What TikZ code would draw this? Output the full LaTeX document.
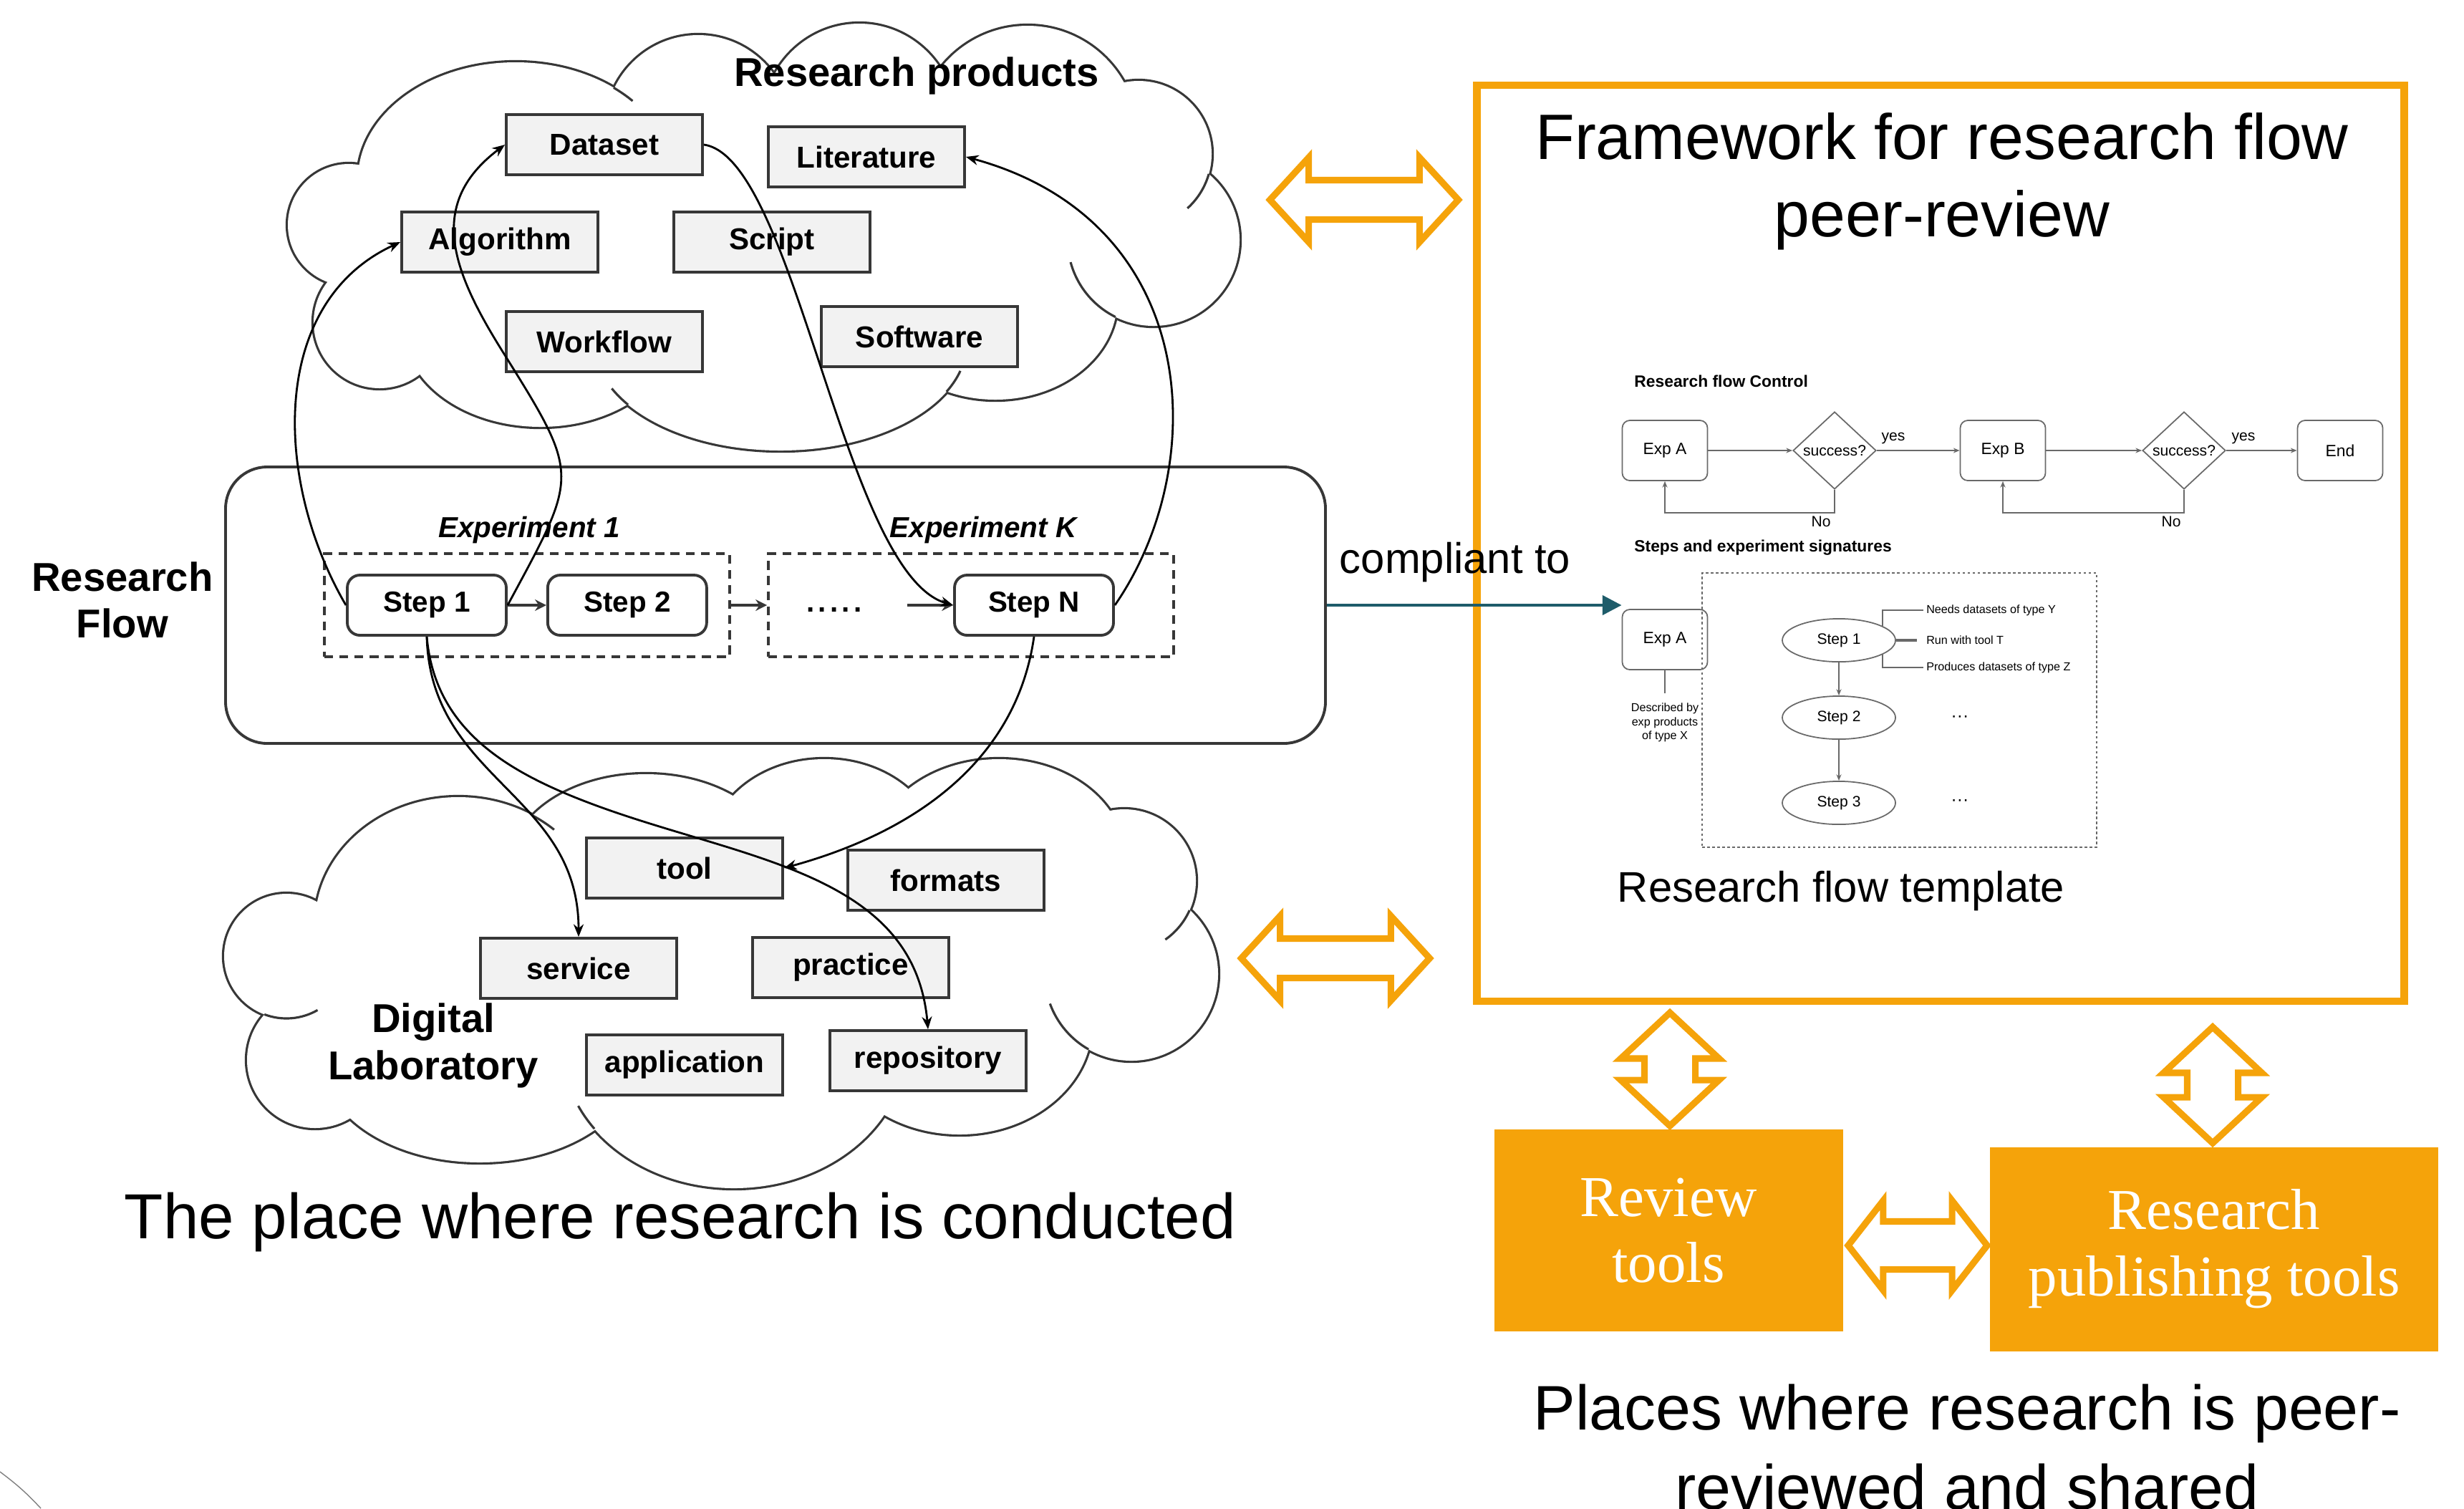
\documentclass[tikz,border=0pt]{standalone}
\usepackage{fontspec}
\setmainfont{Liberation Sans}
\newfontfamily\serifbox{Liberation Serif}
\usepackage{tikz}
\usetikzlibrary{arrows.meta,positioning,calc,shapes.geometric,shapes.arrows}
\definecolor{orng}{RGB}{245,163,10}
\definecolor{tealline}{RGB}{30,92,106}
\definecolor{prodfill}{RGB}{242,242,242}
\definecolor{dark}{RGB}{55,55,55}
\definecolor{flowgray}{RGB}{105,105,105}
% puffs of the two clouds: x/y/x radius/y radius
\newcommand\topcloud{4.87/-3.14/0.85/0.85, 7.20/-2.50/2.20/1.63, 9.75/-1.80/1.30/1.31, 12.00/-1.70/1.35/1.37, 14.35/-1.90/1.54/1.54, 15.90/-2.15/1.02/1.02, 16.11/-3.35/1.20/1.20, 13.90/-4.20/1.70/1.38, 10.90/-4.79/2.60/1.50, 7.55/-4.60/1.90/1.36, 5.30/-4.50/0.92/0.92}
\newcommand\labcloud{6.40/-12.90/2.00/1.77, 9.02/-12.11/1.90/1.30, 11.51/-11.90/1.60/1.30, 13.95/-11.95/1.75/1.35, 15.70/-12.30/1.00/1.00, 15.80/-13.60/1.21/1.21, 13.40/-14.30/1.85/1.54, 10.25/-14.60/2.40/1.99, 6.70/-14.80/2.20/1.43, 4.40/-14.80/0.95/0.95, 4.00/-13.35/0.87/0.87}

\begin{document}
\begin{tikzpicture}[
  prod/.style={draw=dark,fill=prodfill,line width=1.1pt,minimum width=2.74cm,minimum height=0.84cm,inner sep=0pt,font=\fontsize{12}{14}\selectfont\bfseries},
  stepbox/.style={draw=dark,fill=white,rounded corners=5pt,line width=1.1pt,minimum width=2.22cm,minimum height=0.84cm,inner sep=0pt,font=\fontsize{11.5}{14}\selectfont\bfseries},
  expbox/.style={draw=dark,line width=1.1pt,dash pattern=on 3.5pt off 2.5pt,minimum width=5.66cm,minimum height=1.44cm},
  puff/.style={draw=dark,line width=1.8pt},
  hook/.style={draw=dark,line width=0.9pt},
  link/.style={-{Stealth[length=5pt,width=4pt]},line width=0.8pt,black},
  short/.style={-{Stealth[length=4.5pt,width=4.5pt]},line width=1.1pt,dark},
  dbl/.style={double arrow,draw=orng,fill=white,line width=2.6pt,inner xsep=0pt},
  orbox/.style={fill=orng,text=white,align=center,font=\serifbox\fontsize{23}{26.4}\selectfont},
  flowbox/.style={draw=flowgray,rounded corners=3pt,line width=0.5pt,minimum width=1.19cm,minimum height=0.84cm,font=\fontsize{6.5}{8}\selectfont},
  decide/.style={diamond,draw=flowgray,line width=0.5pt,minimum width=1.16cm,minimum height=1.08cm,inner sep=0pt},
  oval/.style={ellipse,draw=flowgray,line width=0.5pt,minimum width=1.58cm,minimum height=0.55cm,font=\fontsize{6}{7}\selectfont},
  flow/.style={-{Stealth[length=2.5pt,width=2pt]},draw=flowgray,line width=0.5pt},
  flowline/.style={draw=flowgray,line width=0.5pt},
  small/.style={font=\fontsize{6}{7}\selectfont,inner sep=1pt},
  tiny/.style={font=\fontsize{4.6}{5.5}\selectfont,inner sep=1pt}
]
\useasboundingbox (0,0) rectangle (34.41,-21.06);

% clouds: outline of the puffs, then white inside
\foreach \x/\y/\a/\b in \topcloud {\draw[puff] (\x,\y) ellipse [x radius=\a, y radius=\b];}
\foreach \x/\y/\a/\b in \labcloud {\draw[puff] (\x,\y) ellipse [x radius=\a, y radius=\b];}
\foreach \x/\y/\a/\b in \topcloud {\fill[white] (\x,\y) ellipse [x radius=\a, y radius=\b];}
\foreach \x/\y/\a/\b in \labcloud {\fill[white] (\x,\y) ellipse [x radius=\a, y radius=\b];}
\fill[white] (4.87,-3.14) -- (7.20,-2.50) -- (9.75,-1.80) -- (12.00,-1.70) -- (14.35,-1.90) -- (15.90,-2.15) -- (16.11,-3.35) -- (13.90,-4.20) -- (10.90,-4.79) -- (7.55,-4.60) -- (5.30,-4.50) -- cycle;
\fill[white] (6.40,-12.90) -- (9.02,-12.11) -- (11.51,-11.90) -- (13.95,-11.95) -- (15.70,-12.30) -- (15.80,-13.60) -- (13.40,-14.30) -- (10.25,-14.60) -- (6.70,-14.80) -- (4.40,-14.80) -- (4.00,-13.35) -- cycle;
% hooks where the puffs meet
\draw[hook] (7.20,-2.50) ++(51.5:2.2 and 1.63) arc [start angle=51.5,end angle=42,x radius=2.2,y radius=1.63];
\draw[hook] (15.90,-2.15) ++(-15.9:1.02) arc [start angle=-15.9,end angle=-48,radius=1.02];
\draw[hook] (16.11,-3.35) ++(243.7:1.2) arc [start angle=243.7,end angle=195,radius=1.2];
\draw[hook] (10.90,-4.79) ++(-26.9:2.6 and 1.5) arc [start angle=-26.9,end angle=-15,x radius=2.6,y radius=1.5];
\draw[hook] (10.90,-4.79) ++(215:2.6 and 1.5) arc [start angle=215,end angle=205,x radius=2.6,y radius=1.5];
\draw[hook] (6.40,-12.90) ++(59:2 and 1.77) arc [start angle=59,end angle=48,x radius=2,y radius=1.77];
\draw[hook] (15.70,-12.30) ++(-24.2:1) arc [start angle=-24.2,end angle=-55,radius=1];
\draw[hook] (15.80,-13.60) ++(240.3:1.21) arc [start angle=240.3,end angle=200,radius=1.21];
\draw[hook] (10.25,-14.60) ++(215.7:2.4 and 1.99) arc [start angle=215.7,end angle=205,x radius=2.4,y radius=1.99];
\draw[hook] (4.00,-13.35) ++(249.3:0.87) arc [start angle=249.3,end angle=300,radius=0.87];
\node[font=\fontsize{16}{19}\selectfont\bfseries] (rptitle) at (12.80,-1.06) {Research products};
\node[font=\fontsize{16}{19}\selectfont\bfseries,align=center] (dltitle) at (6.05,-14.60) {Digital\\Laboratory};

% research products
\node[prod] (ds) at (8.44,-2.02) {Dataset};
\node[prod] (lit) at (12.10,-2.19) {Literature};
\node[prod] (alg) at (6.98,-3.38) {Algorithm};
\node[prod] (scr) at (10.78,-3.38) {Script};
\node[prod] (wf) at (8.44,-4.77) {Workflow};
\node[prod] (sw) at (12.84,-4.70) {Software};

% digital laboratory
\node[prod] (tool) at (9.56,-12.12) {tool};
\node[prod] (fmt) at (13.21,-12.29) {formats};
\node[prod] (srv) at (8.08,-13.52) {service};
\node[prod] (prc) at (11.88,-13.51) {practice};
\node[prod] (app) at (9.56,-14.87) {application};
\node[prod] (rep) at (12.96,-14.81) {repository};

% research flow
\node[draw=dark,line width=1.1pt,rounded corners=0.58cm,minimum width=15.36cm,minimum height=3.86cm] (rf) at (10.83,-8.45) {};
\node[font=\fontsize{16}{18.5}\selectfont\bfseries,align=center] (rftitle) at (1.71,-8.38) {Research\\Flow};
\node[expbox] (ex1) at (7.36,-8.45) {};
\node[expbox] (exk) at (13.56,-8.45) {};
\node[font=\fontsize{11.5}{14}\selectfont\bfseries\itshape] (ex1t) at (7.39,-7.40) {Experiment 1};
\node[font=\fontsize{11.5}{14}\selectfont\bfseries\itshape] (exkt) at (13.73,-7.40) {Experiment K};
\node[stepbox] (st1) at (5.96,-8.45) {Step 1};
\node[stepbox,right=0.54cm of st1] (st2) {Step 2};
\node[stepbox] (stn) at (14.44,-8.45) {Step N};
\node[font=\fontsize{11.5}{14}\selectfont\bfseries,inner sep=0pt] (dots) at (11.65,-8.51) {.\kern1.5pt.\kern1.5pt.\kern1.5pt.\kern1.5pt.};
\draw[short] (st1.east) -- (st2.west);
\draw[short] (ex1.east) -- (exk.west);
\draw[short] ($(stn.west)+(-0.64,0)$) -- (stn.west);

% links between products, steps and lab
\draw[link] (st1.west) .. controls +(-1.01,1.73) and +(-1.84,-0.85) .. (alg.west);
\coordinate (m1) at (7.02,-4.91);
\draw[link] (st1.east) .. controls +(0.99,1.84) and +(1.10,-1.76) .. (m1) .. controls +(-0.72,1.15) and +(-1.09,-0.82) .. (ds.west);
\draw[link] (ds.east) .. controls +(1.28,-0.18) and +(-1.53,0.45) .. (stn.west);
\draw[link] (stn.east) .. controls +(1.35,1.95) and +(3.3,-0.9) .. (lit.east);
\draw[link] (stn.south) .. controls +(-0.23,-1.63) and +(1.97,0.54) .. (tool.east);
\draw[link] (st1.south) .. controls +(0.05,-2.0) and +(0,2.0) .. (srv.north);
\coordinate (m2) at (8.2,-11.2);
\draw[link] (st1.south) .. controls +(0.11,-1.26) and +(-1.18,0.45) .. (m2) .. controls +(2.09,-0.80) and +(-0.20,2.23) .. (rep.north);

% framework
\node[draw=orng,line width=3.1pt,minimum width=12.95cm,minimum height=12.79cm] (fw) at (27.10,-7.585) {};
\node[font=\fontsize{25.5}{30.7}\selectfont,align=center] (fwtitle) at (27.12,-2.53) {Framework for research flow\\peer-review};

\node[anchor=west,font=\fontsize{6.5}{8}\selectfont\bfseries] (rfc) at (22.70,-5.32) {Research flow Control};
\node[flowbox] (fa) at (23.25,-6.29) {Exp A};
\node[decide] (d1) at (25.62,-6.29) {};
\node[small] (d1t) at (d1) {success?};
\node[flowbox] (fb) at (27.97,-6.29) {Exp B};
\node[decide] (d2) at (30.50,-6.29) {};
\node[small] (d2t) at (d2) {success?};
\node[flowbox] (fe) at (32.68,-6.29) {End};
\node[small] (y1) at (26.44,-6.12) {yes};
\node[small] (y2) at (31.33,-6.12) {yes};
\draw[flow] (fa.east) -- (d1.west);
\draw[flow] (d1.east) -- (fb.west);
\draw[flow] (fb.east) -- (d2.west);
\draw[flow] (d2.east) -- (fe.west);
\draw[flow] (d1.south) -- ++(0,-0.32) -| (fa.south);
\draw[flow] (d2.south) -- ++(0,-0.32) -| (fb.south);
\node[small] (no1) at (25.43,-7.28) {No};
\node[small] (no2) at (30.32,-7.28) {No};

\node[anchor=west,font=\fontsize{6.5}{8}\selectfont\bfseries] (ses) at (22.70,-7.65) {Steps and experiment signatures};
\node[flowbox] (ga) at (23.25,-8.93) {Exp A};
\node[tiny,align=center] (dby) at (23.25,-10.09) {Described by\\exp products\\of type X};
\draw[flowline] (ga.south) -- ++(0,-0.32);
\node[draw=flowgray,dash pattern=on 1pt off 1pt,line width=0.5pt,minimum width=5.51cm,minimum height=3.83cm] (sig) at (26.525,-9.915) {};
\node[oval] (s1) at (25.68,-8.94) {Step 1};
\node[oval] (s2) at (25.68,-10.02) {Step 2};
\node[oval] (s3) at (25.68,-11.21) {Step 3};
\draw[flow] (s1) -- (s2);
\draw[flow] (s2) -- (s3);
\node[tiny,anchor=west] (nd) at (26.86,-8.52) {Needs datasets of type Y};
\node[tiny,anchor=west] (rt) at (26.86,-8.94) {Run with tool T};
\node[tiny,anchor=west] (pd) at (26.86,-9.32) {Produces datasets of type Z};
\draw[flowline] (s1.18) |- (nd.west);
\draw[flowline] (s1.-18) |- (pd.west);
\draw[flowline,line width=1.3pt] (s1.east) -- ++(0.29,0);
\node[font=\fontsize{7}{8}\selectfont] (dt2) at (27.37,-10.03) {···};
\node[font=\fontsize{7}{8}\selectfont] (dt3) at (27.37,-11.20) {···};
\node[font=\fontsize{17}{20}\selectfont] (tpl) at (25.71,-12.44) {Research flow template};

% compliant to
\draw[-{Triangle[length=7.6pt,width=7.6pt]},tealline,line width=1.4pt] (rf.east) -- (rf.east -| ga.west);
\node[font=\fontsize{17}{20}\selectfont,anchor=base] (cmp) at (20.32,-8.00) {compliant to};

% peer review places
\node[orbox,minimum width=4.87cm,minimum height=2.82cm] (rev) at (23.30,-17.18) {Review\\tools};
\node[orbox,minimum width=6.26cm,minimum height=2.85cm] (pub) at (30.92,-17.44) {Research\\publishing tools};

% block arrows
\node[dbl,minimum height=2.63cm,minimum width=1.09cm,inner ysep=0.23cm,double arrow head extend=0.315cm,double arrow tip angle=95] (a1) at (19.05,-2.79) {};
\node[dbl,minimum height=2.63cm,minimum width=1.09cm,inner ysep=0.23cm,double arrow head extend=0.315cm,double arrow tip angle=95] (a2) at (18.65,-13.38) {};
\node[dbl,rotate=90,minimum height=1.58cm,minimum width=1.28cm,inner ysep=0.31cm,double arrow head extend=0.33cm,double arrow tip angle=94] (a3) at (23.32,-14.93) {};
\node[dbl,rotate=90,minimum height=1.62cm,minimum width=1.28cm,inner ysep=0.31cm,double arrow head extend=0.33cm,double arrow tip angle=94] (a4) at (30.90,-15.15) {};
\node[dbl,minimum height=1.94cm,minimum width=1.16cm,inner ysep=0.29cm,double arrow head extend=0.29cm,double arrow tip angle=104] (a5) at (26.78,-17.39) {};

% captions
\node[font=\fontsize{25.3}{30}\selectfont,anchor=base] (conducted) at (9.50,-17.29) {The place where research is conducted};
\node[font=\fontsize{25}{31.5}\selectfont,align=center,anchor=base] (shared) at (27.47,-21.07) {Places where research is peer-\\reviewed and shared};

\draw[gray] (0,-20.55) to[bend left=5] (0.57,-21.06);
\end{tikzpicture}
\end{document}
